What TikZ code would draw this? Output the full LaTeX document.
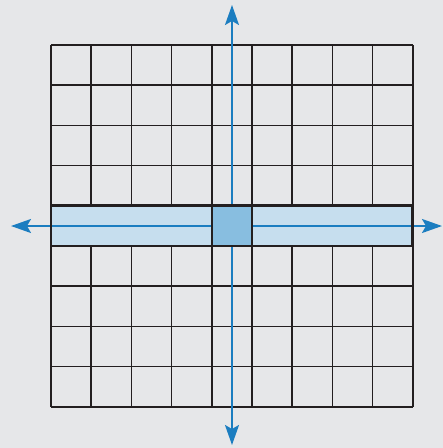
\documentclass[tikz,border=0pt]{standalone}
\usetikzlibrary{arrows.meta}
\definecolor{bgc}{HTML}{E6E7E9}
\definecolor{lightrow}{HTML}{C6DEEE}
\definecolor{darkcell}{HTML}{88BEE0}
\definecolor{axisblue}{HTML}{1B7DC0}
\definecolor{gridblack}{HTML}{231F20}
\tikzset{
  gridline/.style={draw=gridblack, line width=1.7pt},
  rowborder/.style={draw=gridblack, line width=2.8pt},
  axisline/.style={draw=axisblue, line width=2pt, -{Stealth[length=20pt,width=14pt,inset=4pt]}},
}
\begin{document}
\begin{tikzpicture}[x=1pt,y=-1pt]
\fill[bgc] (0,0) rectangle (443,448);
\useasboundingbox (0,0) rectangle (443,448);
% grid
\foreach \i in {0,...,9} {
  \draw[gridline] ({51+40.2*\i},45) -- ({51+40.2*\i},406.8);
  \draw[gridline] (51,{45+40.2*\i}) -- (412.8,{45+40.2*\i});
}
% highlighted row
\fill[lightrow] (51,205.8) rectangle (412.8,246);
% axes
\coordinate (c) at (232,226);
\coordinate (l) at (11,226);
\coordinate (r) at (442,226);
\coordinate (t) at (232,5);
\coordinate (b) at (232,445);
\draw[axisline] (c) -- (l);
\draw[axisline] (c) -- (r);
\draw[axisline] (c) -- (t);
\draw[axisline] (c) -- (b);
% dark cell
\fill[darkcell] (211.8,205.8) rectangle (252,246);
\draw[gridline] (211.8,205.8) -- (211.8,246);
\draw[gridline] (252,205.8) -- (252,246);
% row border
\draw[rowborder] (51,205.8) rectangle (412.8,246);
\end{tikzpicture}
\end{document}
